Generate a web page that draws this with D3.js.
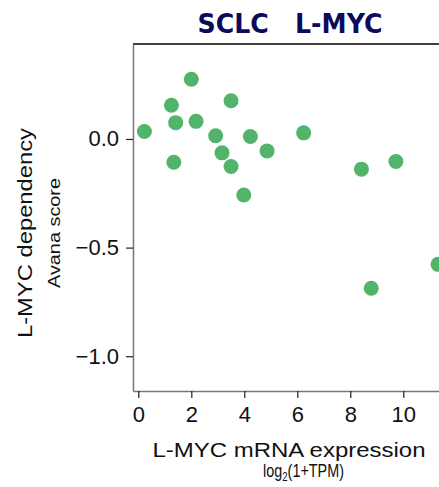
<!DOCTYPE html>
<html>
<head>
  <meta charset="UTF-8">
  <title>SCLC L-MYC dependency</title>
  <script src="https://cdnjs.cloudflare.com/ajax/libs/d3/7.8.5/d3.min.js"></script>
  <style>
    body { margin: 0; background: #fff; overflow: hidden; }
    svg { display: block; }
    .tick text { font-family: "Liberation Sans", Arial, sans-serif; fill: #111; }
  </style>
</head>
<body>
<div id="chart"></div>
<script>
// Expression, log2(1+TPM)
var expression = [0.23, 2.0, 1.25, 1.41, 2.18, 3.50, 1.34, 2.92, 4.23, 3.16,
  4.86, 3.50, 3.98, 6.24, 8.42, 9.72, 8.79, 11.31];
// L-MYC dependency, Avana score
var dependency = [0.034, 0.275, 0.155, 0.075, 0.081, 0.176, -0.107, 0.015, 0.011, -0.064,
  -0.055, -0.127, -0.258, 0.028, -0.139, -0.104, -0.687, -0.577];
var xTicks = [0, 2, 4, 6, 8, 10];
var yTicks = [0.0, -0.5, -1.0];

var width = 439, height = 487;
var layout = { left: 133, top: 44, bottom: 391 };

var svg = d3.select('#chart').append('svg')
  .attr('width', width)
  .attr('height', height);

var x = d3.scaleLinear().domain([-0.2, 12]).range([layout.left, layout.left + 12.2 * 26.5]);
var y = d3.scaleLinear().domain([0.437, -1.16]).range([layout.top, layout.bottom]);

// title
svg.append('text')
  .attr('x', 290).attr('y', 33)
  .attr('text-anchor', 'middle')
  .attr('textLength', 185).attr('lengthAdjust', 'spacingAndGlyphs')
  .style('font-family', '"DejaVu Sans", Verdana, sans-serif')
  .style('font-weight', 'bold')
  .style('font-size', '26px')
  .style('fill', '#0b0b5c')
  .attr('xml:space', 'preserve')
  .text('SCLC   L-MYC');

// top frame line
svg.append('line')
  .attr('x1', layout.left).attr('x2', width + 20)
  .attr('y1', layout.top).attr('y2', layout.top)
  .style('stroke', '#000').style('stroke-width', 1.5);

// axes
var xAxis = svg.append('g')
  .attr('transform', 'translate(0,' + layout.bottom + ')')
  .call(d3.axisBottom(x).tickValues(xTicks).tickFormat(d3.format('d')).tickSize(7).tickPadding(8).tickSizeOuter(0));
var yAxis = svg.append('g')
  .attr('transform', 'translate(' + layout.left + ',0)')
  .call(d3.axisLeft(y).tickValues(yTicks).tickFormat(function(d) { return d3.format('.1f')(d).replace('-', '\u2212'); })
    .tickSize(7).tickPadding(7).tickSizeOuter(0));

[xAxis, yAxis].forEach(function(a) {
  a.select('.domain').style('stroke', '#777').style('stroke-width', 1.5);
  a.selectAll('.tick line').style('stroke', '#222').style('stroke-width', 1.2);
  a.selectAll('.tick text').style('font-size', '22px');
});

// points
svg.append('g').selectAll('circle')
  .data(expression)
  .join('circle')
  .attr('cx', function(d) { return x(d); })
  .attr('cy', function(d, i) { return y(dependency[i]); })
  .attr('r', 7.5)
  .style('fill', '#52b46a');

// axis titles
var sans = '"Liberation Sans", Arial, sans-serif';
svg.append('text')
  .attr('transform', 'translate(31.5,233) rotate(-90)')
  .attr('text-anchor', 'middle')
  .attr('textLength', 210).attr('lengthAdjust', 'spacingAndGlyphs')
  .style('font-family', sans).style('font-size', '20px').style('fill', '#111')
  .text('L-MYC dependency');
svg.append('text')
  .attr('transform', 'translate(60,233) rotate(-90)')
  .attr('text-anchor', 'middle')
  .attr('textLength', 110).attr('lengthAdjust', 'spacingAndGlyphs')
  .style('font-family', sans).style('font-size', '17px').style('fill', '#111')
  .text('Avana score');

svg.append('text')
  .attr('x', 289).attr('y', 457)
  .attr('text-anchor', 'middle')
  .attr('textLength', 273).attr('lengthAdjust', 'spacingAndGlyphs')
  .style('font-family', sans).style('font-size', '20px').style('fill', '#111')
  .text('L-MYC mRNA expression');
var sub = svg.append('text')
  .attr('transform', 'translate(303.5,477) scale(0.8,1)')
  .attr('text-anchor', 'middle')
  .style('font-family', sans).style('font-size', '18px').style('fill', '#111');
sub.append('tspan').text('log');
sub.append('tspan').attr('dy', 4).style('font-size', '12px').text('2');
sub.append('tspan').attr('dy', -4).text('(1+TPM)');
</script>
</body>
</html>
